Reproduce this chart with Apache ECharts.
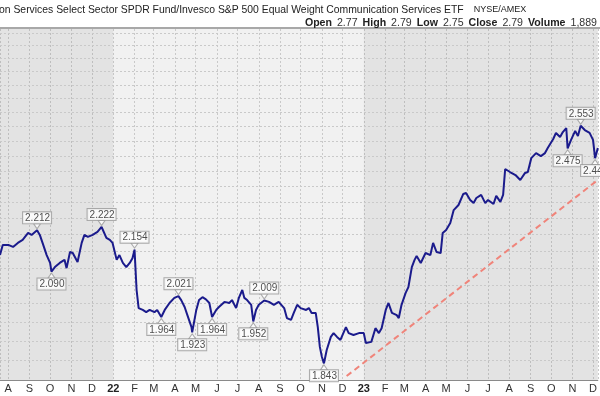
<!DOCTYPE html>
<html>
<head>
<meta charset="utf-8">
<script src="https://cdn.jsdelivr.net/npm/echarts@6/dist/echarts.min.js"></script>
<style>
  html, body { margin: 0; padding: 0; background: #fff; }
  #main { width: 600px; height: 396px; }
</style>
</head>
<body>
<div id="main"></div>
<script>
// price ratio
var priceDates = [
  '2021-07-20', '2021-07-24', '2021-08-01', '2021-08-08', '2021-08-15', '2021-08-22', '2021-08-30', '2021-09-04',
  '2021-09-12', '2021-09-16', '2021-09-20', '2021-09-26', '2021-10-01', '2021-10-03', '2021-10-08', '2021-10-15',
  '2021-10-22', '2021-10-25', '2021-10-30', '2021-11-03', '2021-11-10', '2021-11-16', '2021-11-20', '2021-11-25',
  '2021-12-02', '2021-12-09', '2021-12-15', '2021-12-22', '2021-12-27', '2021-12-31', '2022-01-06', '2022-01-10',
  '2022-01-15', '2022-01-20', '2022-01-25', '2022-01-29', '2022-02-01', '2022-02-04', '2022-02-07', '2022-02-13',
  '2022-02-18', '2022-02-23', '2022-03-02', '2022-03-06', '2022-03-12', '2022-03-17', '2022-03-24', '2022-03-31',
  '2022-04-06', '2022-04-10', '2022-04-15', '2022-04-19', '2022-04-25', '2022-04-26', '2022-05-02', '2022-05-06',
  '2022-05-11', '2022-05-16', '2022-05-21', '2022-05-25', '2022-05-31', '2022-06-04', '2022-06-12', '2022-06-19',
  '2022-06-23', '2022-06-29', '2022-07-03', '2022-07-08', '2022-07-11', '2022-07-15', '2022-07-21', '2022-07-24',
  '2022-07-28', '2022-08-01', '2022-08-09', '2022-08-16', '2022-08-23', '2022-08-30', '2022-09-07', '2022-09-11',
  '2022-09-17', '2022-09-21', '2022-09-26', '2022-10-01', '2022-10-09', '2022-10-13', '2022-10-17', '2022-10-23',
  '2022-10-26', '2022-10-29', '2022-11-01', '2022-11-04', '2022-11-08', '2022-11-14', '2022-11-18', '2022-11-23',
  '2022-11-28', '2022-12-06', '2022-12-10', '2022-12-17', '2022-12-25', '2023-01-01', '2023-01-04', '2023-01-12',
  '2023-01-18', '2023-01-23', '2023-01-27', '2023-02-02', '2023-02-06', '2023-02-11', '2023-02-18', '2023-02-21',
  '2023-02-25', '2023-03-03', '2023-03-07', '2023-03-12', '2023-03-16', '2023-03-19', '2023-03-25', '2023-04-01',
  '2023-04-08', '2023-04-12', '2023-04-17', '2023-04-23', '2023-04-26', '2023-05-01', '2023-05-07', '2023-05-12',
  '2023-05-19', '2023-05-26', '2023-05-30', '2023-06-05', '2023-06-10', '2023-06-14', '2023-06-21', '2023-06-27',
  '2023-07-01', '2023-07-09', '2023-07-13', '2023-07-19', '2023-07-23', '2023-07-26', '2023-08-02', '2023-08-10',
  '2023-08-17', '2023-08-24', '2023-08-28', '2023-09-02', '2023-09-09', '2023-09-16', '2023-09-22', '2023-09-26',
  '2023-10-04', '2023-10-08', '2023-10-14', '2023-10-18', '2023-10-23', '2023-10-25', '2023-10-30', '2023-11-05',
  '2023-11-09', '2023-11-13', '2023-11-19', '2023-11-26', '2023-12-01', '2023-12-04', '2023-12-08'
];
var priceValues = [
  2.138, 2.168, 2.168, 2.162, 2.174, 2.183, 2.204, 2.198,
  2.212, 2.198, 2.174, 2.138, 2.115, 2.090, 2.103, 2.115,
  2.124, 2.100, 2.147, 2.144, 2.118, 2.174, 2.198, 2.192,
  2.198, 2.207, 2.222, 2.189, 2.183, 2.174, 2.124, 2.138,
  2.115, 2.103, 2.115, 2.129, 2.154, 2.038, 1.988, 1.983,
  1.977, 1.983, 1.977, 1.983, 1.964, 1.983, 2.002, 2.016,
  2.021, 2.010, 1.991, 1.969, 1.937, 1.923, 1.983, 2.010,
  2.018, 2.012, 2.002, 1.964, 1.983, 1.991, 2.005, 2.002,
  2.010, 1.988, 2.016, 2.038, 2.016, 2.010, 1.997, 1.952,
  1.983, 1.997, 2.009, 2.005, 1.997, 2.005, 1.988, 1.961,
  1.956, 1.975, 1.997, 1.988, 1.983, 1.988, 1.975, 1.975,
  1.937, 1.885, 1.859, 1.843, 1.877, 1.911, 1.921, 1.911,
  1.903, 1.937, 1.921, 1.916, 1.921, 1.921, 1.895, 1.898,
  1.934, 1.921, 1.934, 1.983, 2.002, 1.975, 1.969, 1.961,
  1.997, 2.030, 2.046, 2.103, 2.124, 2.135, 2.115, 2.144,
  2.138, 2.174, 2.147, 2.144, 2.204, 2.213, 2.234, 2.274,
  2.290, 2.325, 2.328, 2.306, 2.296, 2.312, 2.322, 2.296,
  2.306, 2.293, 2.319, 2.300, 2.322, 2.406, 2.396, 2.386,
  2.370, 2.393, 2.396, 2.442, 2.459, 2.449, 2.459, 2.476,
  2.507, 2.528, 2.514, 2.531, 2.545, 2.475, 2.504, 2.535,
  2.517, 2.553, 2.538, 2.528, 2.504, 2.442, 2.476
];

// swing highs / lows that carry a value box (1 = box above, -1 = box below)
var annoDates = [
  '2021-09-12', '2021-10-03', '2021-12-15', '2022-02-01', '2022-03-12', '2022-04-06', '2022-04-26',
  '2022-05-25', '2022-07-24', '2022-08-09', '2022-11-04', '2023-10-25', '2023-11-13', '2023-12-04'
];
var annoSide = [1, -1, 1, 1, -1, 1, -1, -1, -1, 1, -1, -1, 1, -1];

// dashed trend line
var trendDates = ['2022-12-07', '2023-12-08'];
var trendValues = [1.811, 2.370];

// horizontal grid levels
var gridPrices = [1.85, 1.90, 1.95, 2.00, 2.05, 2.10, 2.15, 2.20, 2.25, 2.30, 2.35, 2.40,
  2.45, 2.50, 2.55, 2.60, 2.65, 2.70, 2.75, 2.80, 2.85, 2.90];

// shaded years
var shadeBands = [['2021-07-20', '2022-01-01'], ['2023-01-01', '2023-12-08']];

var monthLetters = 'JFMAMJJASOND';

var chart = echarts.init(document.getElementById('main'));

var lineData = priceDates.map(function (d, i) { return [d, priceValues[i]]; });

var annoData = annoDates.map(function (d, i) {
  var v = priceValues[priceDates.indexOf(d)];
  var up = annoSide[i] > 0;
  return {
    value: [d, v],
    symbol: up ? 'path://M0,0L10,0L5,7Z' : 'path://M5,0L10,7L0,7Z',
    symbolOffset: [0, up ? -4 : 4],
    label: { position: up ? 'top' : 'bottom' }
  };
});

chart.setOption({
  animation: false,
  backgroundColor: '#fff',
  textStyle: { fontFamily: 'Liberation Sans, Arial, sans-serif' },
  title: [
    {
      text: '{a|on Services Select Sector SPDR Fund/Invesco S&P 500 Equal Weight Communication Services ETF}  {b|NYSE/AMEX}',
      left: -1,
      top: 1,
      padding: 0,
      textStyle: {
        fontWeight: 'normal',
        rich: {
          a: { fontSize: 10.4, fontWeight: 'normal', color: '#222', fontFamily: 'Liberation Sans' },
          b: { fontSize: 9, fontWeight: 'normal', color: '#222', fontFamily: 'Liberation Sans' }
        }
      }
    },
    {
      text: '{k|Open} {v|2.77} {k|High} {v|2.79} {k|Low} {v|2.75} {k|Close} {v|2.79} {k|Volume} {v|1,889}',
      right: 3,
      top: 14,
      padding: 0,
      textStyle: {
        fontWeight: 'normal',
        rich: {
          k: { fontSize: 10.6, fontWeight: 'bold', color: '#222', fontFamily: 'Liberation Sans' },
          v: { fontSize: 10.6, fontWeight: 'normal', color: '#333', fontFamily: 'Liberation Sans' }
        }
      }
    }
  ],
  graphic: [
    { type: 'rect', left: 0, top: 27, shape: { width: 600, height: 2 }, style: { fill: '#a8a8a8' } }
  ],
  grid: {
    left: 0, right: 0, top: 29, bottom: 16,
    show: true, backgroundColor: '#f1f1f1', borderWidth: 0
  },
  xAxis: {
    type: 'time',
    min: '2021-07-20',
    max: '2023-12-08',
    splitNumber: 29,
    minInterval: 28 * 86400000,
    maxInterval: 31 * 86400000,
    axisLine: { lineStyle: { color: '#8a8a8a', width: 1 } },
    axisTick: { show: false },
    axisLabel: {
      color: '#333',
      fontSize: 11,
      margin: 3,
      showMinLabel: false,
      showMaxLabel: false,
      hideOverlap: false,
      formatter: function (value) {
        var d = new Date(value);
        if (d.getDate() !== 1) return '';
        var m = d.getMonth();
        if (m === 0) return '{y|' + String(d.getFullYear()).slice(2) + '}';
        return monthLetters[m];
      },
      rich: { y: { fontWeight: 'bold', fontSize: 11, color: '#222' } }
    },
    splitLine: { show: true, lineStyle: { color: '#c9c9c9', type: [2, 2], width: 1 } }
  },
  yAxis: {
    type: 'log',
    logBase: 10,
    min: 1.8013,
    max: 2.9153,
    show: false,
    splitLine: { show: false }
  },
  series: [
    {
      name: 'ratio',
      type: 'line',
      data: lineData,
      showSymbol: false,
      z: 3,
      lineStyle: { color: '#1b1b8c', width: 2 },
      itemStyle: { color: '#1b1b8c' },
      markArea: {
        silent: true,
        z: 1,
        itemStyle: { color: 'rgba(0,0,0,0.055)' },
        data: shadeBands.map(function (b) { return [{ xAxis: b[0] }, { xAxis: b[1] }]; })
      },
      markLine: {
        silent: true,
        z: 1,
        symbol: 'none',
        animation: false,
        label: { show: false },
        lineStyle: { color: '#c9c9c9', type: [2, 2], width: 1 },
        data: gridPrices.map(function (v) { return { yAxis: v }; })
      }
    },
    {
      name: 'trend',
      type: 'line',
      data: trendDates.map(function (d, i) { return [d, trendValues[i]]; }),
      showSymbol: false,
      z: 2,
      lineStyle: { color: '#f0847a', width: 2, type: [6, 4] }
    },
    {
      name: 'labels',
      type: 'scatter',
      data: annoData,
      symbolSize: [7, 5],
      z: 4,
      clip: false,
      itemStyle: { color: '#fff', borderColor: '#999', borderWidth: 1 },
      label: {
        show: true,
        distance: 0,
        fontSize: 10,
        color: '#222',
        fontFamily: 'Liberation Sans',
        backgroundColor: '#fff',
        borderColor: '#999',
        borderWidth: 1,
        padding: [1, 1, 0, 2],
        formatter: function (p) { return p.value[1].toFixed(3); }
      }
    }
  ]
});
</script>
</body>
</html>
